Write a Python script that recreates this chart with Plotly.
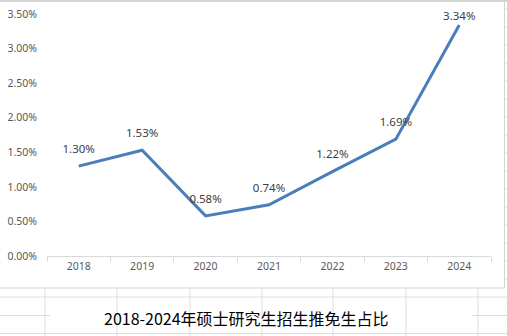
import plotly.graph_objects as go

years = ["2018", "2019", "2020", "2021", "2022", "2023", "2024"]
ratio = [0.0130, 0.0153, 0.0058, 0.0074, 0.0122, 0.0169, 0.0334]
labels = ["1.30%", "1.53%", "0.58%", "0.74%", "1.22%", "1.69%", "3.34%"]
title_text = "2018-2024年硕士研究生招生推免生占比"

W, H = 507, 336
L, R, T, B = 47, 491, 14, 256  # plot area in pixels


def px(x):
    return (x - L) / (R - L)


def py(y):
    return (B - y) / (B - T)


fig = go.Figure()
fig.add_trace(go.Scatter(
    x=years, y=ratio, mode="lines+markers+text",
    line=dict(color="#4a7ebb", width=3),
    marker=dict(size=[15, 15, 15, 15, 15, 15, 2], color="rgba(0,0,0,0)",
                line=dict(width=0, color="rgba(0,0,0,0)")),
    text=labels, textposition="top center",
    textfont=dict(family="Noto Sans", size=11.5, color="#404040"),
    cliponaxis=False, hoverinfo="skip",
))

grid = "#dedede"
shapes = []


def seg(x0, y0, x1, y1, color=grid, w=1):
    shapes.append(dict(type="line", xref="paper", yref="paper",
                       x0=px(x0), y0=py(y0), x1=px(x1), y1=py(y1),
                       line=dict(color=color, width=w), layer="below"))


# chart frame
seg(0, 1, W, 1, "#d4d4d4", 2)
seg(504.5, 0, 504.5, 288, "#d4d4d4", 1)
seg(0, 288, 505, 288, "#d4d4d4", 1)
# spreadsheet grid below chart
seg(0, 297, W, 297)
seg(0, 333.5, W, 333.5)
seg(0, 315.5, 50, 315.5)
seg(472, 315.5, W, 315.5)
for xv in [45, 117, 190, 262, 333, 406, 478]:
    seg(xv, 288, xv, W)
for yv in range(9, 288, 18):
    seg(505, yv, W, yv)

fig.update_layout(
    width=W, height=H,
    margin=dict(l=L, r=W - R, t=T, b=H - B, pad=0, autoexpand=False),
    paper_bgcolor="white", plot_bgcolor="white",
    showlegend=False,
    shapes=shapes,
    annotations=[dict(
        text=title_text, xref="paper", yref="paper",
        x=px(246), y=py(318), xanchor="center", yanchor="middle",
        showarrow=False,
        font=dict(family="Noto Sans CJK SC", size=16, color="#000000"),
    )],
)
fig.update_xaxes(
    type="category", range=[-0.5, 6.5], automargin=False,
    showgrid=False, showline=True, linecolor="#d9d9d9", linewidth=1,
    ticks="outside", tickson="boundaries", ticklen=5, tickcolor="#d9d9d9",
    tickfont=dict(family="Noto Sans", size=10.5, color="#595959"),
    fixedrange=True,
)
fig.update_yaxes(
    range=[0, 0.035], dtick=0.005, tickformat=".2%", automargin=False,
    showgrid=False, zeroline=False, showline=False,
    ticklabelstandoff=9,
    tickfont=dict(family="Noto Sans", size=10.5, color="#595959"),
    fixedrange=True,
)

fig.write_html("out.html")
